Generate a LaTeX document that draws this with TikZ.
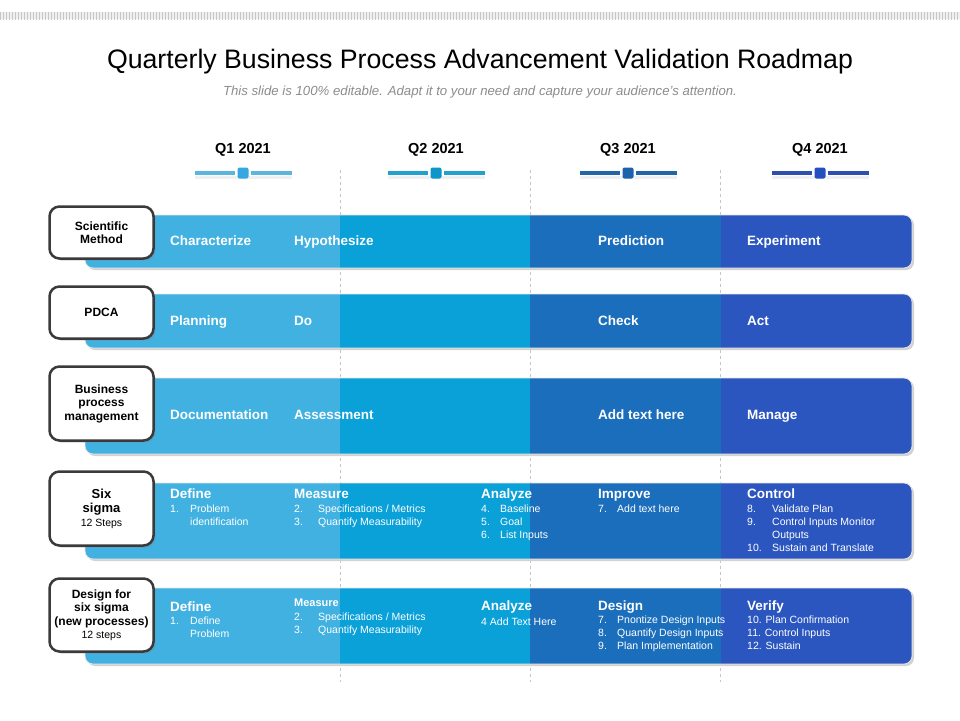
\documentclass[tikz,border=0pt]{standalone}
\usepackage{fontspec}
\setmainfont{Liberation Sans}
\usetikzlibrary{shadows,patterns}

\definecolor{qa}{HTML}{41B1E1}
\definecolor{qb}{HTML}{0AA0D8}
\definecolor{qc}{HTML}{1B6EBC}
\definecolor{qd}{HTML}{2B55BF}
\definecolor{sa}{HTML}{5BB5DD}
\definecolor{sb}{HTML}{22A0CE}
\definecolor{sc}{HTML}{2266A8}
\definecolor{sd}{HTML}{2F4FAE}
\definecolor{ka}{HTML}{35A8E2}
\definecolor{kb}{HTML}{0E96CC}
\definecolor{kc}{HTML}{1A62AE}
\definecolor{kd}{HTML}{2350C0}
\definecolor{boxgray}{HTML}{3A3A3A}
\definecolor{subgray}{HTML}{8C8C8C}

\newcommand\steplist[2]{\begin{tabular}[t]{@{}p{#1}@{}l@{}}#2\end{tabular}}

\begin{document}
\begin{tikzpicture}[x=1pt,y=-1pt,
  lbl/.style={draw=boxgray,line width=2.5pt,fill=white,rounded corners=10pt,
    minimum width=104pt,align=center,inner sep=0pt,
    font=\bfseries\fontsize{12}{13.5}\selectfont,
    drop shadow={opacity=.35,shadow xshift=2pt,shadow yshift=-2pt}},
  head/.style={anchor=base west,inner sep=0pt,text=white,font=\bfseries\fontsize{13.5}{16}\selectfont},
  item/.style={anchor=base west,inner sep=0pt,text=white,font=\fontsize{10.5}{13}\selectfont},
  qlab/.style={anchor=base,inner sep=0pt,font=\bfseries\fontsize{14.5}{16}\selectfont},
  knob/.style={minimum width=11pt,minimum height=11pt,inner sep=0pt,rounded corners=2pt}]
\useasboundingbox (0,0) rectangle (960,720);

% top stripe and titles
\fill[gray!12] (0,12) rectangle (960,19);
\fill[pattern=vertical lines,pattern color=gray!45] (0,12) rectangle (960,19);
\node[anchor=base,inner sep=0pt,font=\fontsize{26.7}{30}\selectfont] (title) at (480,68)
  {Quarterly Business Process Advancement Validation Roadmap};
\node[anchor=base,inner sep=0pt,text=subgray,font=\itshape\fontsize{13.2}{15}\selectfont] (sub) at (480,95)
  {This slide is 100\% editable. Adapt it to your need and capture your audience's attention.};

% quarters
\foreach \x/\q/\c/\k in {243/1/sa/ka,436/2/sb/kb,628/3/sc/kc,820/4/sd/kd}{
  \node[qlab] (q\q) at (\x,153) {Q\q{} 2021};
  \coordinate (l\q) at (\x-48,173);
  \coordinate (r\q) at (\x+49,173);
  \draw[gray!12,line width=3pt] ([yshift=-4pt]l\q) -- ([yshift=-4pt]r\q);
  \node[knob,fill=\k] (k\q) at (\x,173) {};
  \draw[\c,line width=4pt] (l\q) -- ([xshift=-2pt]k\q.west) ([xshift=2pt]k\q.east) -- (r\q);
}

% dashed guides
\foreach \x in {340,530,720}
  \draw[gray!45,dashed,line width=.5pt] (\x,170) -- (\x,682);

% bands
\foreach \t/\b in {215/268,294/348,378/454,483/559,588/664}{
  \fill[gray!35,rounded corners=8pt] (87,\t+2) rectangle (914,\b+2);
  \begin{scope}
    \clip[rounded corners=8pt] (85,\t) rectangle (912,\b);
    \fill[qa] (85,\t) rectangle (340,\b);
    \fill[qb] (340,\t) rectangle (530,\b);
    \fill[qc] (530,\t) rectangle (721,\b);
    \fill[qd] (721,\t) rectangle (912,\b);
  \end{scope}
  \draw[gray!20,line width=.8pt,rounded corners=8pt] (85,\t) rectangle (912,\b);
}

% row labels
\node[lbl,minimum height=52pt] (sm) at (101.5,232.5) {Scientific\\Method};
\node[lbl,minimum height=52pt] (pdca) at (101.5,312.5) {PDCA};
\node[lbl,minimum height=74pt] (bpm) at (101.5,403.5) {Business\\process\\management};
\node[lbl,minimum height=74pt] (ss) at (101.5,508.5)
  {{\fontsize{13}{15}\selectfont Six}\\[1pt]{\fontsize{13}{15}\selectfont sigma}\\{\mdseries\fontsize{10.5}{12}\selectfont 12 Steps}};
\node[lbl,minimum height=73pt] (dfss) at (101.5,615)
  {Design for\\six sigma\\(new processes)\\{\mdseries\fontsize{10.5}{12}\selectfont 12 steps}};

% simple rows
\foreach \y/\a/\b/\c/\d [count=\i] in {245.8/Characterize/Hypothesize/Prediction/Experiment,
    325.8/Planning/Do/Check/Act,419.8/Documentation/Assessment/Add text here/Manage}{
  \node[head] (a\i) at (170,\y) {\a};
  \node[head] (b\i) at (294,\y) {\b};
  \node[head] (c\i) at (598,\y) {\c};
  \node[head] (d\i) at (747,\y) {\d};
}

% six sigma
\node[head] (ssdef) at (170,498.8) {Define};
\node[head] (ssmea) at (294,498.8) {Measure};
\node[head] (ssana) at (481,498.8) {Analyze};
\node[head] (ssimp) at (598,498.8) {Improve};
\node[head] (sscon) at (747,498.8) {Control};
\node[item] (ssdef1) at (170,512.8) {\steplist{20pt}{1.&Problem\\&identification}};
\node[item] (ssmea1) at (294,512.8) {\steplist{24pt}{2.&Specifications / Metrics\\3.&Quantify Measurability}};
\node[item] (ssana1) at (481,512.8) {\steplist{19pt}{4.&Baseline\\5.&Goal\\6.&List Inputs}};
\node[item] (ssimp1) at (598,512.8) {\steplist{19pt}{7.&Add text here}};
\node[item] (sscon1) at (747,512.8) {\steplist{25pt}{8.&Validate Plan\\9.&Control Inputs Monitor\\&Outputs\\10.&Sustain and Translate}};

% design for six sigma
\node[head] (dfdef) at (170,611.8) {Define};
\node[head,font=\bfseries\fontsize{11}{13}\selectfont] (dfmea) at (294,606.9) {Measure};
\node[head] (dfana) at (481,610.8) {Analyze};
\node[head] (dfdes) at (598,610.8) {Design};
\node[head] (dfver) at (747,610.8) {Verify};
\node[item] (dfdef1) at (170,624.8) {\steplist{20pt}{1.&Define\\&Problem}};
\node[item] (dfmea1) at (294,620.8) {\steplist{24pt}{2.&Specifications / Metrics\\3.&Quantify Measurability}};
\node[item] (dfana1) at (481,625.8) {4 Add Text Here};
\node[item] (dfdes1) at (598,623.8) {\steplist{19pt}{7.&Pnontize Design Inputs\\8.&Quantify Design Inputs\\9.&Plan Implementation}};
\node[item] (dfver1) at (747,623.8) {\steplist{0pt}{&10. Plan Confirmation\\&11. Control Inputs\\&12. Sustain}};
\end{tikzpicture}
\end{document}
